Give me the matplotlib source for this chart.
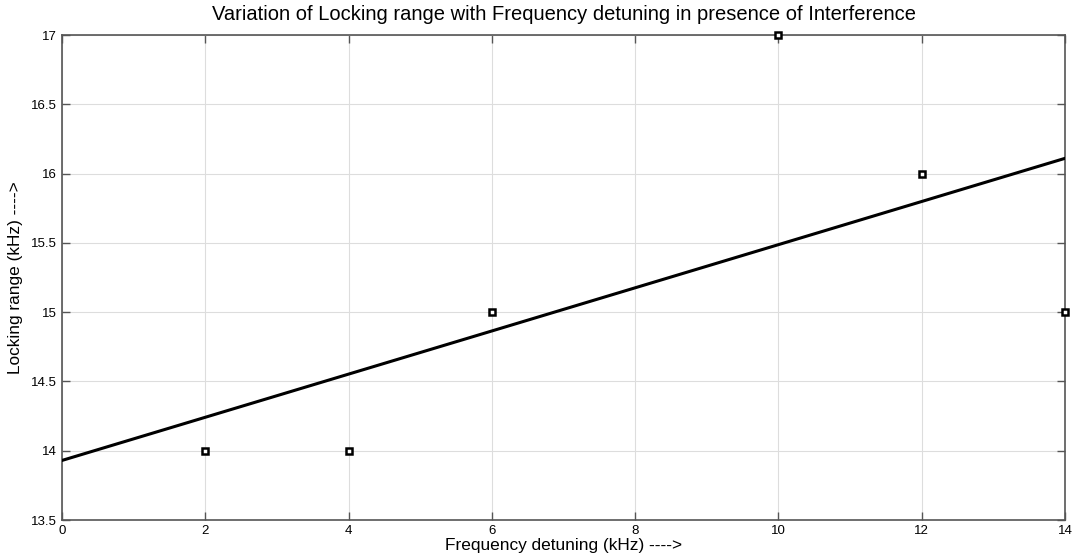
import matplotlib
matplotlib.use("Agg")
import matplotlib.pyplot as plt

detuning = [2, 4, 6, 10, 12, 14]
locking_range = [14, 14, 15, 17, 16, 15]

# fitted line at the axis ends
fit_x = [0, 14]
fit_y = [13.93, 16.11]

x_ticks = [0, 2, 4, 6, 8, 10, 12, 14]
y_ticks = [13.5, 14, 14.5, 15, 15.5, 16, 16.5, 17]
y_tick_labels = ["13.5", "14", "14.5", "15", "15.5", "16", "16.5", "17"]

plt.rcParams["font.family"] = ["Liberation Sans", "DejaVu Sans"]

fig = plt.figure(figsize=(10.75, 5.6), dpi=100)
ax = fig.add_axes([0.0577, 0.0714, 0.933, 0.8661])

ax.plot(fit_x, fit_y, color="black", linewidth=2.2, zorder=3)
ax.plot(detuning, locking_range, linestyle="none", marker="s", markersize=5,
        markerfacecolor="white", markeredgecolor="black", markeredgewidth=1.8,
        zorder=4, clip_on=False)

ax.set_xlim(0, 14)
ax.set_ylim(13.5, 17)
ax.set_xticks(x_ticks)
ax.set_yticks(y_ticks)
ax.set_xticklabels([str(t) for t in x_ticks])
ax.set_yticklabels(y_tick_labels)

ax.grid(True, color="#dddddd", linewidth=0.8)
ax.set_axisbelow(True)
ax.tick_params(direction="in", length=6, width=1, colors="#555555",
               labelcolor="black", labelsize=9.5, top=True, right=True)
for spine in ax.spines.values():
    spine.set_color("#555555")
    spine.set_linewidth(1.2)

ax.set_title("Variation of Locking range with Frequency detuning in presence of Interference",
             fontsize=14.5, pad=11)
ax.set_xlabel("Frequency detuning (kHz) ---->", fontsize=12.4, labelpad=1)
ax.set_ylabel("Locking range (kHz) ---->", fontsize=12.4, labelpad=6)

fig.savefig("out.png", dpi=100)
